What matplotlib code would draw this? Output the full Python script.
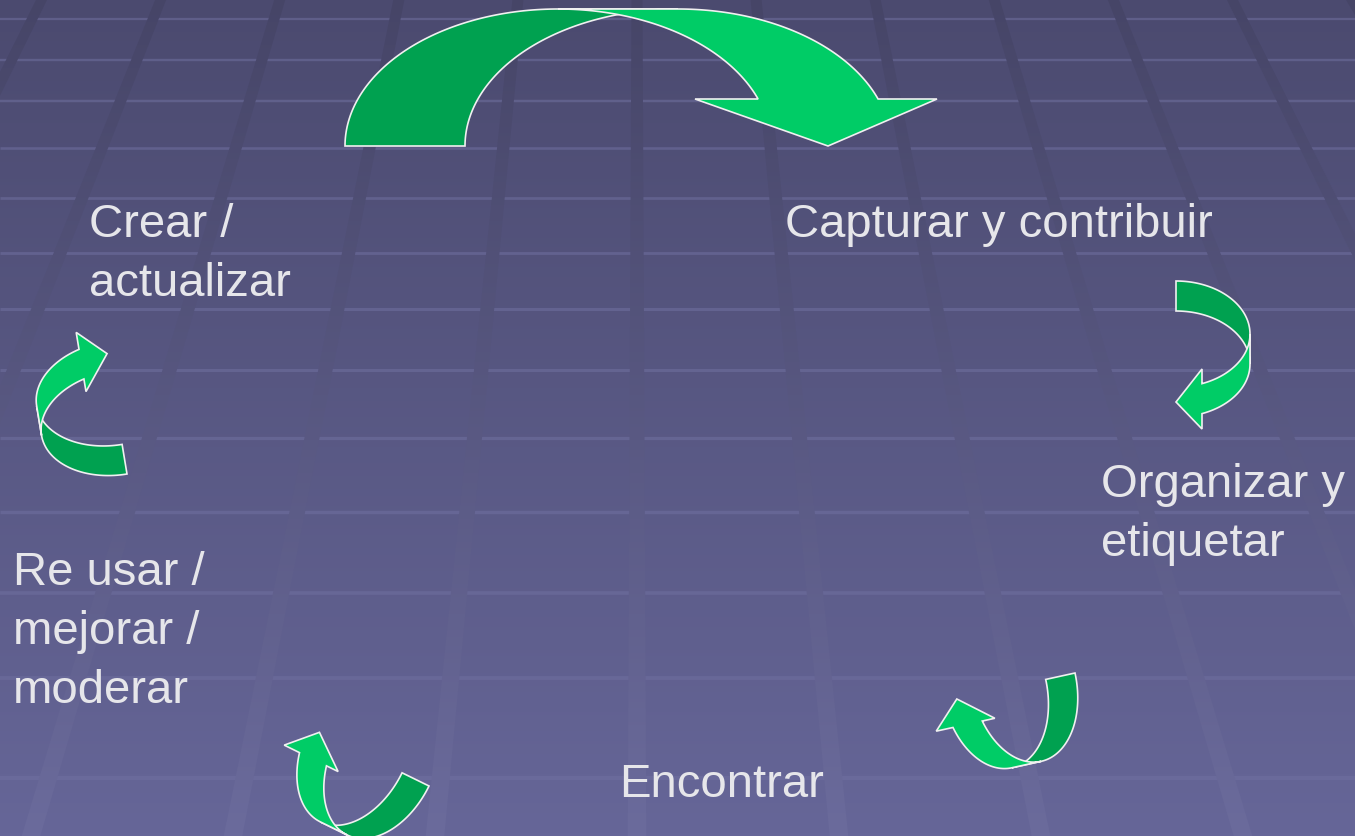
import numpy as np
import matplotlib
matplotlib.use("Agg")
import matplotlib.pyplot as plt
from matplotlib.path import Path
from matplotlib.patches import Polygon, PathPatch

# canvas in pixel units of the slide
W, H = 1355, 837

# background colours (top -> bottom)
bg_top = np.array([75, 74, 111]) / 255
bg_bot = np.array([102, 102, 152]) / 255
# perspective stripes, darker on top and a bit lighter at the bottom
stripe_top = np.array([70, 69, 103]) / 255
stripe_bot = np.array([107, 107, 156]) / 255
stripe_idx = list(range(-5, 7))
stripe_x0 = 637          # x of central stripe at y = 0
stripe_step = 119        # spacing of stripes at y = 0
vanish_y = -1200         # vanishing point height
# horizontal grid rows
row_y = [20, 61, 102, 149, 199, 254, 310, 371, 439, 513, 594, 679, 779]

# curved arrows: origin (outer tail), angle, ellipse a/b, shaft, head base height,
# head wings (inner/outer) and tip position along the baseline
arr_ox = [345, 1176, 127, 1075, 429]
arr_oy = [147, 282, 475, 674, 787]
arr_ang = [0, 90, -99.4, 167.6, 206.1]
arr_a = [213, 53, 52, 52, 52]
arr_b = [137, 74, 78, 79, 80]
arr_t = [120, 30, 30, 30, 30]
arr_ve = [47, 26, 27, 27, 27]
arr_win = [350, 88, 88, 88, 88]
arr_wout = [592, 148, 148, 148, 148]
arr_tip = [483, 121, 122, 121, 122]

dark_green = "#00a150"
light_green = "#00cc66"

# labels
label_lines = [["Crear /", "actualizar"], ["Capturar y contribuir"],
               ["Organizar y", "etiquetar"], ["Encontrar"],
               ["Re usar /", "mejorar /", "moderar"]]
label_x = [89, 785, 1101, 619, 13]
label_y = [237, 237, 497, 797, 585]
line_step = 59

fig = plt.figure(figsize=(W / 100, H / 100), dpi=100)
ax = fig.add_axes([0, 0, 1, 1])
ax.set_xlim(0, W)
ax.set_ylim(H, 0)
ax.axis("off")

# background gradient
f = np.linspace(0, 1, 256)[:, None, None]
grad = bg_top * (1 - f) + bg_bot * f
ax.imshow(grad, extent=(0, W, H, 0), aspect="auto", zorder=0)

# horizontal rows
for y in row_y:
    lw = 1.6 + 1.4 * y / H
    ax.plot([0, W], [y, y], color="#7070a0", alpha=0.55, lw=lw, zorder=1,
            solid_capstyle="butt")

# perspective stripes, gradient clipped to their polygons
verts, codes = [], []
for n in stripe_idx:
    xt = stripe_x0 + stripe_step * n
    k = (xt - stripe_x0) / (0 - vanish_y)
    hw = 5.5 / (0 - vanish_y)
    pts = [(stripe_x0 + (k + s * hw) * (y - vanish_y), y)
           for y, s in [(-20, -1), (H + 20, -1), (H + 20, 1), (-20, 1)]]
    verts += pts + [pts[0]]
    codes += [Path.MOVETO, Path.LINETO, Path.LINETO, Path.LINETO, Path.CLOSEPOLY]
clip = PathPatch(Path(verts, codes), transform=ax.transData, fc="none", ec="none")
ax.add_patch(clip)
sgrad = stripe_top * (1 - f) + stripe_bot * f
im = ax.imshow(sgrad, extent=(0, W, H, 0), aspect="auto", zorder=2)
im.set_clip_path(clip)


def curved_arrow(ox, oy, ang, a, b, t, ve, w_in, w_out, tip):
    th = np.deg2rad(ang)
    U = np.array([np.cos(th), np.sin(th)])
    V = np.array([np.sin(th), -np.cos(th)])

    def P(u, v):
        return (ox + u * U[0] + v * V[0], oy + u * U[1] + v * V[1])

    c = a
    phi = np.linspace(np.pi, np.pi / 2, 80)
    back = [P(c + a * np.cos(p), b * np.sin(p)) for p in phi]
    back += [P(c + t + a * np.cos(p), b * np.sin(p)) for p in phi[::-1]]
    pe = np.arcsin(ve / b)
    phi2 = np.linspace(np.pi / 2, pe, 80)
    front = [P(c + a * np.cos(p), b * np.sin(p)) for p in phi2]
    front += [P(w_in, ve), P(tip, 0), P(w_out, ve)]
    front += [P(c + t + a * np.cos(p), b * np.sin(p)) for p in phi2[::-1]]
    return back, front


for i in range(len(arr_ox)):
    back, front = curved_arrow(arr_ox[i], arr_oy[i], arr_ang[i], arr_a[i], arr_b[i],
                               arr_t[i], arr_ve[i], arr_win[i], arr_wout[i], arr_tip[i])
    ax.add_patch(Polygon(back, closed=True, fc=dark_green, ec="#f0f0f0", lw=1.2,
                         joinstyle="miter", zorder=3))
    ax.add_patch(Polygon(front, closed=True, fc=light_green, ec="#f0f0f0", lw=1.2,
                         joinstyle="miter", zorder=4))

for lines, x, y in zip(label_lines, label_x, label_y):
    for j, s in enumerate(lines):
        ax.text(x, y + j * line_step, s, fontsize=34, color="#e6e6ea",
                family=["Liberation Sans", "DejaVu Sans"], ha="left", va="baseline",
                zorder=5)

fig.savefig("out.png", dpi=100)
